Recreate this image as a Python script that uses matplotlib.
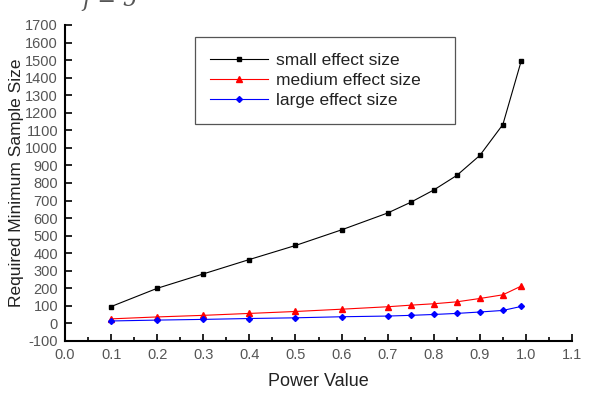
import matplotlib
matplotlib.use("Agg")
import matplotlib.pyplot as plt
from matplotlib.ticker import MultipleLocator

plt.rcParams['font.family'] = ['Liberation Sans', 'DejaVu Sans']
plt.rcParams['axes.unicode_minus'] = False

power = [0.1, 0.2, 0.3, 0.4, 0.5, 0.6, 0.7, 0.75, 0.8, 0.85, 0.9, 0.95, 0.99]
small = [96, 200, 282, 364, 444, 533, 629, 690, 760, 843, 957, 1133, 1497]
medium = [26, 37, 46, 57, 68, 81, 95, 104, 112, 123, 142, 163, 213]
large = [14, 19, 23, 28, 32, 38, 42, 46, 51, 57, 65, 74, 97]

fig = plt.figure(figsize=(5.93, 4.09), dpi=100)
ax = fig.add_axes([0.1096, 0.1663, 0.855, 0.7726])

ax.plot(power, small, color="black", marker="s", markersize=3, linewidth=0.8, label="small effect size")
ax.plot(power, medium, color="red", marker="^", markersize=4, linewidth=0.8, label="medium effect size")
ax.plot(power, large, color="blue", marker="D", markersize=3, linewidth=0.8, label="large effect size")

ax.set_xlim(0.0, 1.1)
ax.set_ylim(-100, 1700)
ax.xaxis.set_major_locator(MultipleLocator(0.1))
ax.xaxis.set_minor_locator(MultipleLocator(0.05))
ax.yaxis.set_major_locator(MultipleLocator(100))
ax.xaxis.set_major_formatter(plt.FormatStrFormatter("%.1f"))

for s in ["top", "right"]:
    ax.spines[s].set_visible(False)
for s in ["left", "bottom"]:
    ax.spines[s].set_linewidth(1.5)

ax.tick_params(axis="both", which="major", direction="in", length=5, width=1.2,
               labelsize=10.5, labelcolor="#555555", pad=5)
ax.tick_params(axis="x", which="minor", direction="in", length=3, width=1.2)

ax.set_xlabel("Power Value", fontsize=13, color="#222222", labelpad=8)
ax.set_ylabel("Required Minimum Sample Size", fontsize=12.5, color="#222222", labelpad=1)

leg = ax.legend(loc="upper left", bbox_to_anchor=(0.256, 0.962, 0.513, 0.0), mode="expand",
                borderaxespad=0, fontsize=12.5, handlelength=3.3, handletextpad=0.5,
                labelspacing=0.3, borderpad=0.9, fancybox=False, edgecolor="#555555",
                framealpha=1)
leg.get_frame().set_linewidth(0.9)
for t in leg.get_texts():
    t.set_color("#222222")

fig.text(0.185, 1.0, "f = 5", fontsize=16, family="DejaVu Serif", style="italic",
         color="#555555", ha="center", va="center")

fig.savefig("out.png", dpi=100)
